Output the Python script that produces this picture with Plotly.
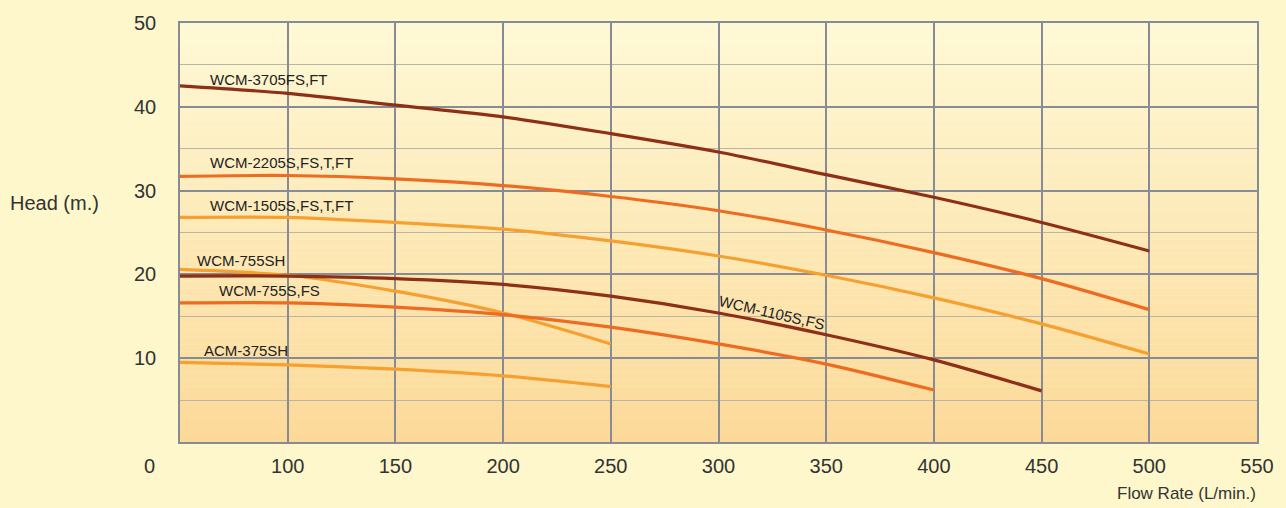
import plotly.graph_objects as go

# ---- data ----
flow_x_ticks = [100, 150, 200, 250, 300, 350, 400, 450, 500, 550]
flow_tick_text = ["100", "150", "200", "250", "300", "350", "400", "450", "500", "550"]
head_ticks = [10, 20, 30, 40, 50]

x_500 = [50, 100, 150, 200, 250, 300, 350, 400, 450, 500]
x_450 = [50, 100, 150, 200, 250, 300, 350, 400, 450]
x_400 = [50, 100, 150, 200, 250, 300, 350, 400]
x_250 = [50, 100, 150, 200, 250]

wcm_3705 = [42.5, 41.6, 40.2, 38.8, 36.8, 34.6, 31.9, 29.2, 26.2, 22.8]
wcm_2205 = [31.7, 31.8, 31.4, 30.6, 29.3, 27.6, 25.3, 22.6, 19.5, 15.8]
wcm_1505 = [26.8, 26.8, 26.2, 25.4, 24.0, 22.2, 19.9, 17.2, 14.1, 10.5]
wcm_755sh = [20.6, 19.9, 18.0, 15.4, 11.7]
wcm_1105 = [19.8, 19.8, 19.5, 18.8, 17.4, 15.4, 12.8, 9.8, 6.1]
wcm_755s = [16.6, 16.6, 16.1, 15.2, 13.7, 11.7, 9.3, 6.2]
acm_375sh = [9.5, 9.2, 8.7, 7.9, 6.6]

DARK = "#8E2F17"
ORANGE = "#EE6B22"
LIGHT = "#F5A030"

series = [
    ("WCM-3705FS,FT", x_500, wcm_3705, DARK),
    ("WCM-2205S,FS,T,FT", x_500, wcm_2205, ORANGE),
    ("WCM-1505S,FS,T,FT", x_500, wcm_1505, LIGHT),
    ("WCM-755SH", x_250, wcm_755sh, LIGHT),
    ("WCM-1105S,FS", x_450, wcm_1105, DARK),
    ("WCM-755S,FS", x_400, wcm_755s, ORANGE),
    ("ACM-375SH", x_250, acm_375sh, LIGHT),
]

fig = go.Figure()
for name, xs, ys, col in series:
    fig.add_trace(go.Scatter(x=xs, y=ys, mode="lines", name=name,
                             line=dict(color=col, width=3.2, shape="spline", smoothing=0.8),
                             hoverinfo="x+y+name"))

# gradient background of the plot area (strips)
def lerp(c1, c2, t):
    return tuple(round(a + (b - a) * t) for a, b in zip(c1, c2))

top_c = (254, 249, 214)
bot_c = (252, 217, 152)
n = 60
shapes = []
for i in range(n):
    y0 = 50 * i / n
    y1 = 50 * (i + 1) / n
    t = 1 - (i + 0.5) / n
    c = lerp(top_c, bot_c, t)
    shapes.append(dict(type="rect", xref="x", yref="y", x0=50, x1=550, y0=y0, y1=y1,
                       fillcolor="rgb(%d,%d,%d)" % c, line=dict(width=0), layer="below"))

W, H = 1286, 508
ML, MR, MT, MB = 180, 29, 23, 66
PW, PH = W - ML - MR, H - MT - MB


def px2paper(px, py):
    return (px - ML) / PW, (H - MB - py) / PH


label_font = dict(family="Liberation Sans Narrow, Liberation Sans, Arial, sans-serif", size=15, color="#222")
labels = [
    ("WCM-3705FS,FT", 208, 79),
    ("WCM-2205S,FS,T,FT", 208, 162),
    ("WCM-1505S,FS,T,FT", 208, 205),
    ("WCM-755SH", 195, 260),
    ("WCM-755S,FS", 217, 290),
    ("ACM-375SH", 202, 350),
]
annotations = []
for txt, px, py in labels:
    ax, ay = px2paper(px, py)
    annotations.append(dict(text=txt, x=ax, y=ay, xref="paper", yref="paper",
                            xanchor="left", yanchor="middle", showarrow=False, font=label_font))
ax, ay = px2paper(772, 312)
annotations.append(dict(text="WCM-1105S,FS", x=ax, y=ay, xref="paper", yref="paper",
                        xanchor="center", yanchor="middle", showarrow=False, font=label_font, textangle=13))
ax, ay = px2paper(149, 466)
annotations.append(dict(text="0", x=ax, y=ay, xref="paper", yref="paper",
                        xanchor="center", yanchor="middle", showarrow=False,
                        font=dict(family="Liberation Sans, Arial, sans-serif", size=20, color="#333")))
ax, ay = px2paper(8, 203)
annotations.append(dict(text="Head (m.)", x=ax, y=ay, xref="paper", yref="paper",
                        xanchor="left", yanchor="middle", showarrow=False,
                        font=dict(family="Liberation Sans, Arial, sans-serif", size=20, color="#333")))
ax, ay = px2paper(1258, 494)
annotations.append(dict(text="Flow Rate (L/min.)", x=ax, y=ay, xref="paper", yref="paper",
                        xanchor="right", yanchor="middle", showarrow=False,
                        font=dict(family="Liberation Sans, Arial, sans-serif", size=17, color="#333")))

fig.update_layout(
    width=W, height=H,
    margin=dict(l=ML, r=MR, t=MT, b=MB),
    paper_bgcolor="#FDF7CB",
    plot_bgcolor="rgba(0,0,0,0)",
    showlegend=False,
    shapes=shapes,
    annotations=annotations,
    xaxis=dict(range=[50, 550], tickvals=flow_x_ticks, ticktext=flow_tick_text,
               showgrid=True, gridcolor="#868B95", gridwidth=1.5,
               showline=True, linecolor="#868B95", linewidth=1.5, mirror=True,
               ticks="", ticklabelstandoff=5, zeroline=False,
               tickfont=dict(family="Liberation Sans, Arial, sans-serif", size=20, color="#333")),
    yaxis=dict(range=[0, 50], tickvals=head_ticks,
               showgrid=True, gridcolor="#868B95", gridwidth=1.5,
               minor=dict(dtick=5, tick0=0, showgrid=True, gridcolor="#B9B6A8", gridwidth=1),
               showline=True, linecolor="#868B95", linewidth=1.5, mirror=True,
               ticks="", ticklabelstandoff=18, zeroline=False,
               tickfont=dict(family="Liberation Sans, Arial, sans-serif", size=20, color="#333")),
)

fig.write_html("out.html", config={"displayModeBar": False},
               post_script="document.body.style.margin='0';document.body.style.background='#FDF7CB';")
